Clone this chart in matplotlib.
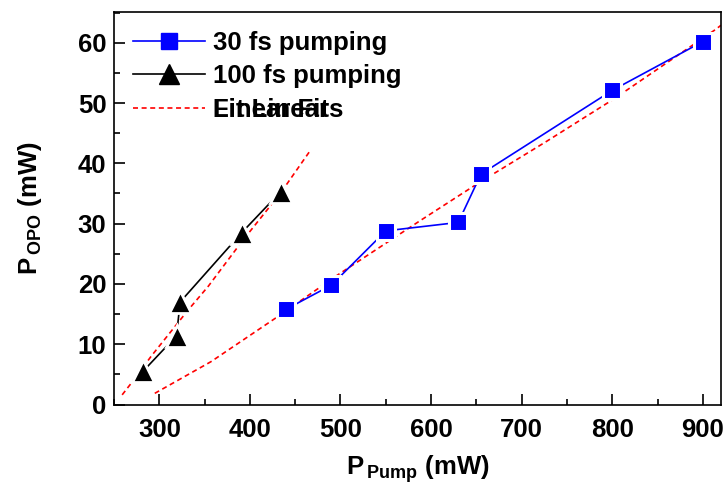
import matplotlib
matplotlib.use("Agg")
import matplotlib.pyplot as plt
from matplotlib.ticker import MultipleLocator

# Measured OPO output power versus pump power
pump_30fs = [440, 490, 550, 630, 655, 800, 900]
opo_30fs = [15.8, 19.8, 28.8, 30.2, 38.2, 52.1, 60.2]

pump_100fs = [282, 319, 323, 391, 434]
opo_100fs = [5.5, 11.4, 17.0, 28.5, 35.3]

# Fitted curves
fit30_x = [295, 357, 431, 497, 588, 653, 727, 802, 914, 920]
fit30_y = [1.85, 7.1, 14.6, 21.5, 30.5, 36.8, 43.6, 50.7, 62.2, 62.9]
fit100_x = [259, 273, 291, 332, 354, 391, 434, 467]
fit100_y = [1.6, 4.3, 8.0, 15.7, 19.6, 27.0, 35.1, 42.2]

x_ticks = [300, 400, 500, 600, 700, 800, 900]
y_ticks = [0, 10, 20, 30, 40, 50, 60]

plt.rcParams['font.family'] = ['Liberation Sans', 'DejaVu Sans']
plt.rcParams['font.weight'] = 'bold'
plt.rcParams['mathtext.fontset'] = 'custom'
plt.rcParams['mathtext.rm'] = 'Liberation Sans:bold'
plt.rcParams['mathtext.bf'] = 'Liberation Sans:bold'
plt.rcParams['lines.scale_dashes'] = False

FS = 18.5

fig = plt.figure(figsize=(7.25, 4.92), dpi=100)
ax = fig.add_axes([114 / 725, 1 - 404.5 / 492, (721 - 114) / 725, (404.5 - 12) / 492])

dash = (0, (3.6, 2.6))
ax.plot(fit30_x, fit30_y, color='red', lw=1.2, linestyle=dash, zorder=1)
ax.plot(fit100_x, fit100_y, color='red', lw=1.2, linestyle=dash, zorder=1)

ax.plot(pump_30fs, opo_30fs, color='#0000ff', lw=1.2, zorder=2)
ax.plot(pump_100fs, opo_100fs, color='black', lw=1.2, zorder=2)
ax.plot(pump_30fs, opo_30fs, linestyle='none', marker='s', ms=13,
        mfc='#0000ff', mec='white', mew=2.2, zorder=3)
ax.plot(pump_100fs, opo_100fs, linestyle='none', marker='^', ms=16.5,
        mfc='black', mec='white', mew=2.0, zorder=3)

# Legend handles (continuous line through symbol)
h30, = ax.plot([], [], color='#0000ff', lw=1.2, marker='s', ms=12,
               mfc='#0000ff', mec='#0000ff', label='30 fs pumping')
h100, = ax.plot([], [], color='black', lw=1.2, marker='^', ms=14.5,
                mfc='black', mec='black', label='100 fs pumping')
hfit, = ax.plot([], [], color='red', lw=1.2, linestyle=dash, label='Linear Fits')

leg = ax.legend(handles=[h30, h100, hfit], loc='upper left',
                bbox_to_anchor=(0.031, 0.952), frameon=False,
                borderpad=0, borderaxespad=0, handlelength=2.8,
                handletextpad=0.31, labelspacing=0.37,
                prop={'size': FS, 'weight': 'bold'})

fig.canvas.draw()
fit_text = leg.get_texts()[2]
ax.annotate('Fit Linear', xy=(0, 0), xycoords=fit_text, ha='left', va='bottom',
            fontsize=FS, fontweight='bold', annotation_clip=False)

ax.set_xlim(250, 920)
ax.set_ylim(0, 65.1)
ax.set_xticks(x_ticks)
ax.set_yticks(y_ticks)
ax.xaxis.set_minor_locator(MultipleLocator(50))
ax.yaxis.set_minor_locator(MultipleLocator(5))
ax.tick_params(which='both', direction='in', top=False, right=False, width=1.2)
ax.tick_params(which='major', length=8, labelsize=FS)
ax.tick_params(axis='x', which='major', pad=9.5)
ax.tick_params(axis='y', which='major', pad=5.5)
ax.tick_params(which='minor', length=4)
for lab in ax.get_xticklabels() + ax.get_yticklabels():
    lab.set_fontweight('bold')
for s in ax.spines.values():
    s.set_linewidth(1.2)

ax.set_xlabel(r'$\mathbf{P}_{\mathbf{\,Pump}}$ (mW)', fontsize=FS, fontweight='bold', labelpad=8)
ax.set_ylabel(r'$\mathbf{P}_{\mathbf{\,OPO}}$ (mW)', fontsize=FS, fontweight='bold', labelpad=24)

fig.savefig('out.png', dpi=100)
